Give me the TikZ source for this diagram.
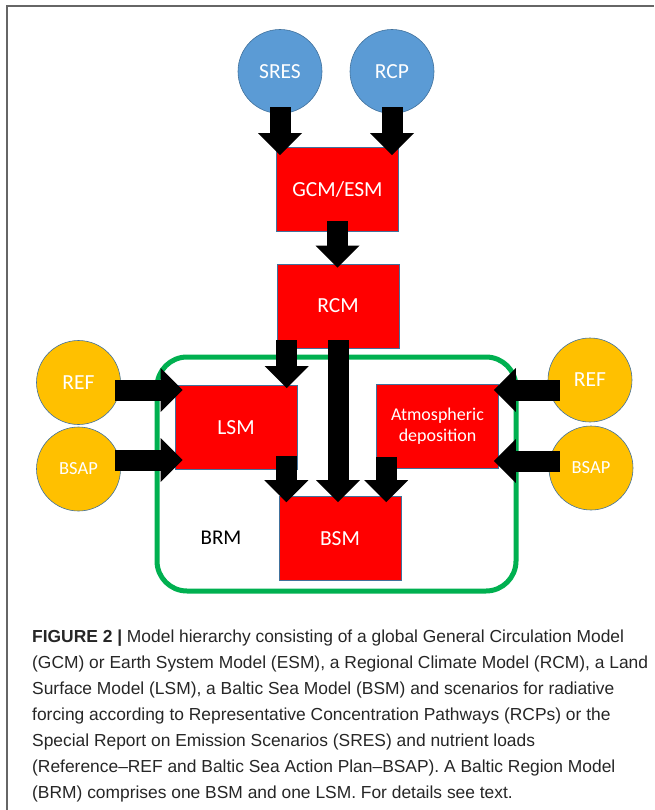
\documentclass[tikz,border=0pt]{standalone}
\usepackage{fontspec}
\setmainfont{Liberation Sans}
\newfontfamily\calibri{Carlito}
\usetikzlibrary{arrows.meta}
\definecolor{modelred}{HTML}{FF0000}
\definecolor{scenblue}{HTML}{5B9BD5}
\definecolor{loadorange}{HTML}{FFC000}
\definecolor{edgeblue}{HTML}{41719C}
\definecolor{brmgreen}{HTML}{00B050}

\begin{document}
\begin{tikzpicture}[x=1pt,y=-1pt,
    model/.style={draw=edgeblue,line width=0.6pt,fill=modelred,text=white,minimum width=122pt,minimum height=84pt,inner sep=2pt,align=center,font=\calibri\fontsize{21.5}{23}\selectfont},
    scen/.style={circle,draw=edgeblue,line width=0.6pt,fill=scenblue,text=white,minimum size=84pt,inner sep=0pt,font=\calibri\fontsize{21.5}{23}\selectfont},
    load/.style={scen,fill=loadorange},
    blockarrow/.style={line width=21pt,-{Triangle[width=44pt,length=22pt,line width=0pt]}}]
    \useasboundingbox (0,0) rectangle (654,810);
    % Model hierarchy
    \draw[black!60,line width=2pt] (7,810) -- (7,6) -- (654,6);
    \node[draw=brmgreen,line width=5pt,rounded corners=30pt,minimum width=359pt,minimum height=234pt] (BRM) at (336.5,474) {};

    \node[scen] (SRES) at (280,71.5) {SRES};
    \node[scen] (RCP) at (392,71.5) {RCP};
    \node[load] (REFleft) at (78.5,382.5) {REF};
    \node[load,font=\calibri\fontsize{18.5}{20}\selectfont] (BSAPleft) at (78.5,469) {BSAP};
    \node[load] (REFright) at (590,380) {REF};
    \node[load,font=\calibri\fontsize{18.5}{20}\selectfont] (BSAPright) at (591,468) {BSAP};

    \node[model] (GCM) at (337.5,189.5) {GCM/ESM};
    \node[model] (RCM) at (338,306) {RCM};
    \node[model] (LSM) at (236,427.5) {LSM};
    \node[model,font=\calibri\fontsize{18}{21}\selectfont] (Atmo) at (437.5,426.5) {Atmospheric\\deposition};
    \node[model] (BSM) at (340,538.5) {BSM};
    \node[font=\calibri\fontsize{21}{23}\selectfont] (BRMlabel) at (221,538) {BRM};

    \draw[blockarrow,shorten <=-6.5pt,shorten >=-8pt] (SRES.south) -- (SRES.south |- GCM.north);
    \draw[blockarrow,shorten <=-6.5pt,shorten >=-8pt] (RCP.south) -- (RCP.south |- GCM.north);
    \draw[blockarrow,shorten <=-11pt,shorten >=-4pt] (GCM.south) -- (GCM.south |- RCM.north);
    \draw[blockarrow,shorten <=-8pt,shorten >=-3pt] ([xshift=10pt]RCM.south west) -- ([xshift=10pt]RCM.south west |- LSM.north);
    \draw[blockarrow,shorten <=-8pt,shorten >=-6pt] (RCM.south) -- (RCM.south |- BSM.north);
    \draw[blockarrow,shorten <=-14pt,shorten >=-6pt] ([xshift=-11pt]LSM.south east) -- ([xshift=-11pt]LSM.south east |- BSM.north);
    \draw[blockarrow,shorten <=-12pt,shorten >=-6pt] ([xshift=10pt]Atmo.south west) -- ([xshift=10pt]Atmo.south west |- BSM.north);

    \draw[blockarrow,shorten <=-5.5pt,shorten >=-8pt] ([yshift=-7.5pt]REFleft.east) -- ([yshift=-7.5pt]REFleft.east -| LSM.west);
    \draw[blockarrow,shorten <=-5.5pt,shorten >=-8pt] ([yshift=9pt]BSAPleft.east) -- ([yshift=9pt]BSAPleft.east -| LSM.west);
    \draw[blockarrow,shorten <=-12pt,shorten >=-5pt] ([yshift=-10pt]REFright.west) -- ([yshift=-10pt]REFright.west -| Atmo.east);
    \draw[blockarrow,shorten <=-11pt,shorten >=-5pt] ([yshift=7pt]BSAPright.west) -- ([yshift=7pt]BSAPright.west -| Atmo.east);

    \node[anchor=north west,align=left,inner sep=0pt,text=black!85,font=\fontsize{17.4}{26}\selectfont] (caption) at (32,630)
      {\textbf{FIGURE 2 |} Model hierarchy consisting of a global General Circulation Model\\
       (GCM) or Earth System Model (ESM), a Regional Climate Model (RCM), a Land\\
       Surface Model (LSM), a Baltic Sea Model (BSM) and scenarios for radiative\\
       forcing according to Representative Concentration Pathways (RCPs) or the\\
       Special Report on Emission Scenarios (SRES) and nutrient loads\\
       (Reference--REF and Baltic Sea Action Plan--BSAP). A Baltic Region Model\\
       (BRM) comprises one BSM and one LSM. For details see text.};
\end{tikzpicture}
\end{document}
